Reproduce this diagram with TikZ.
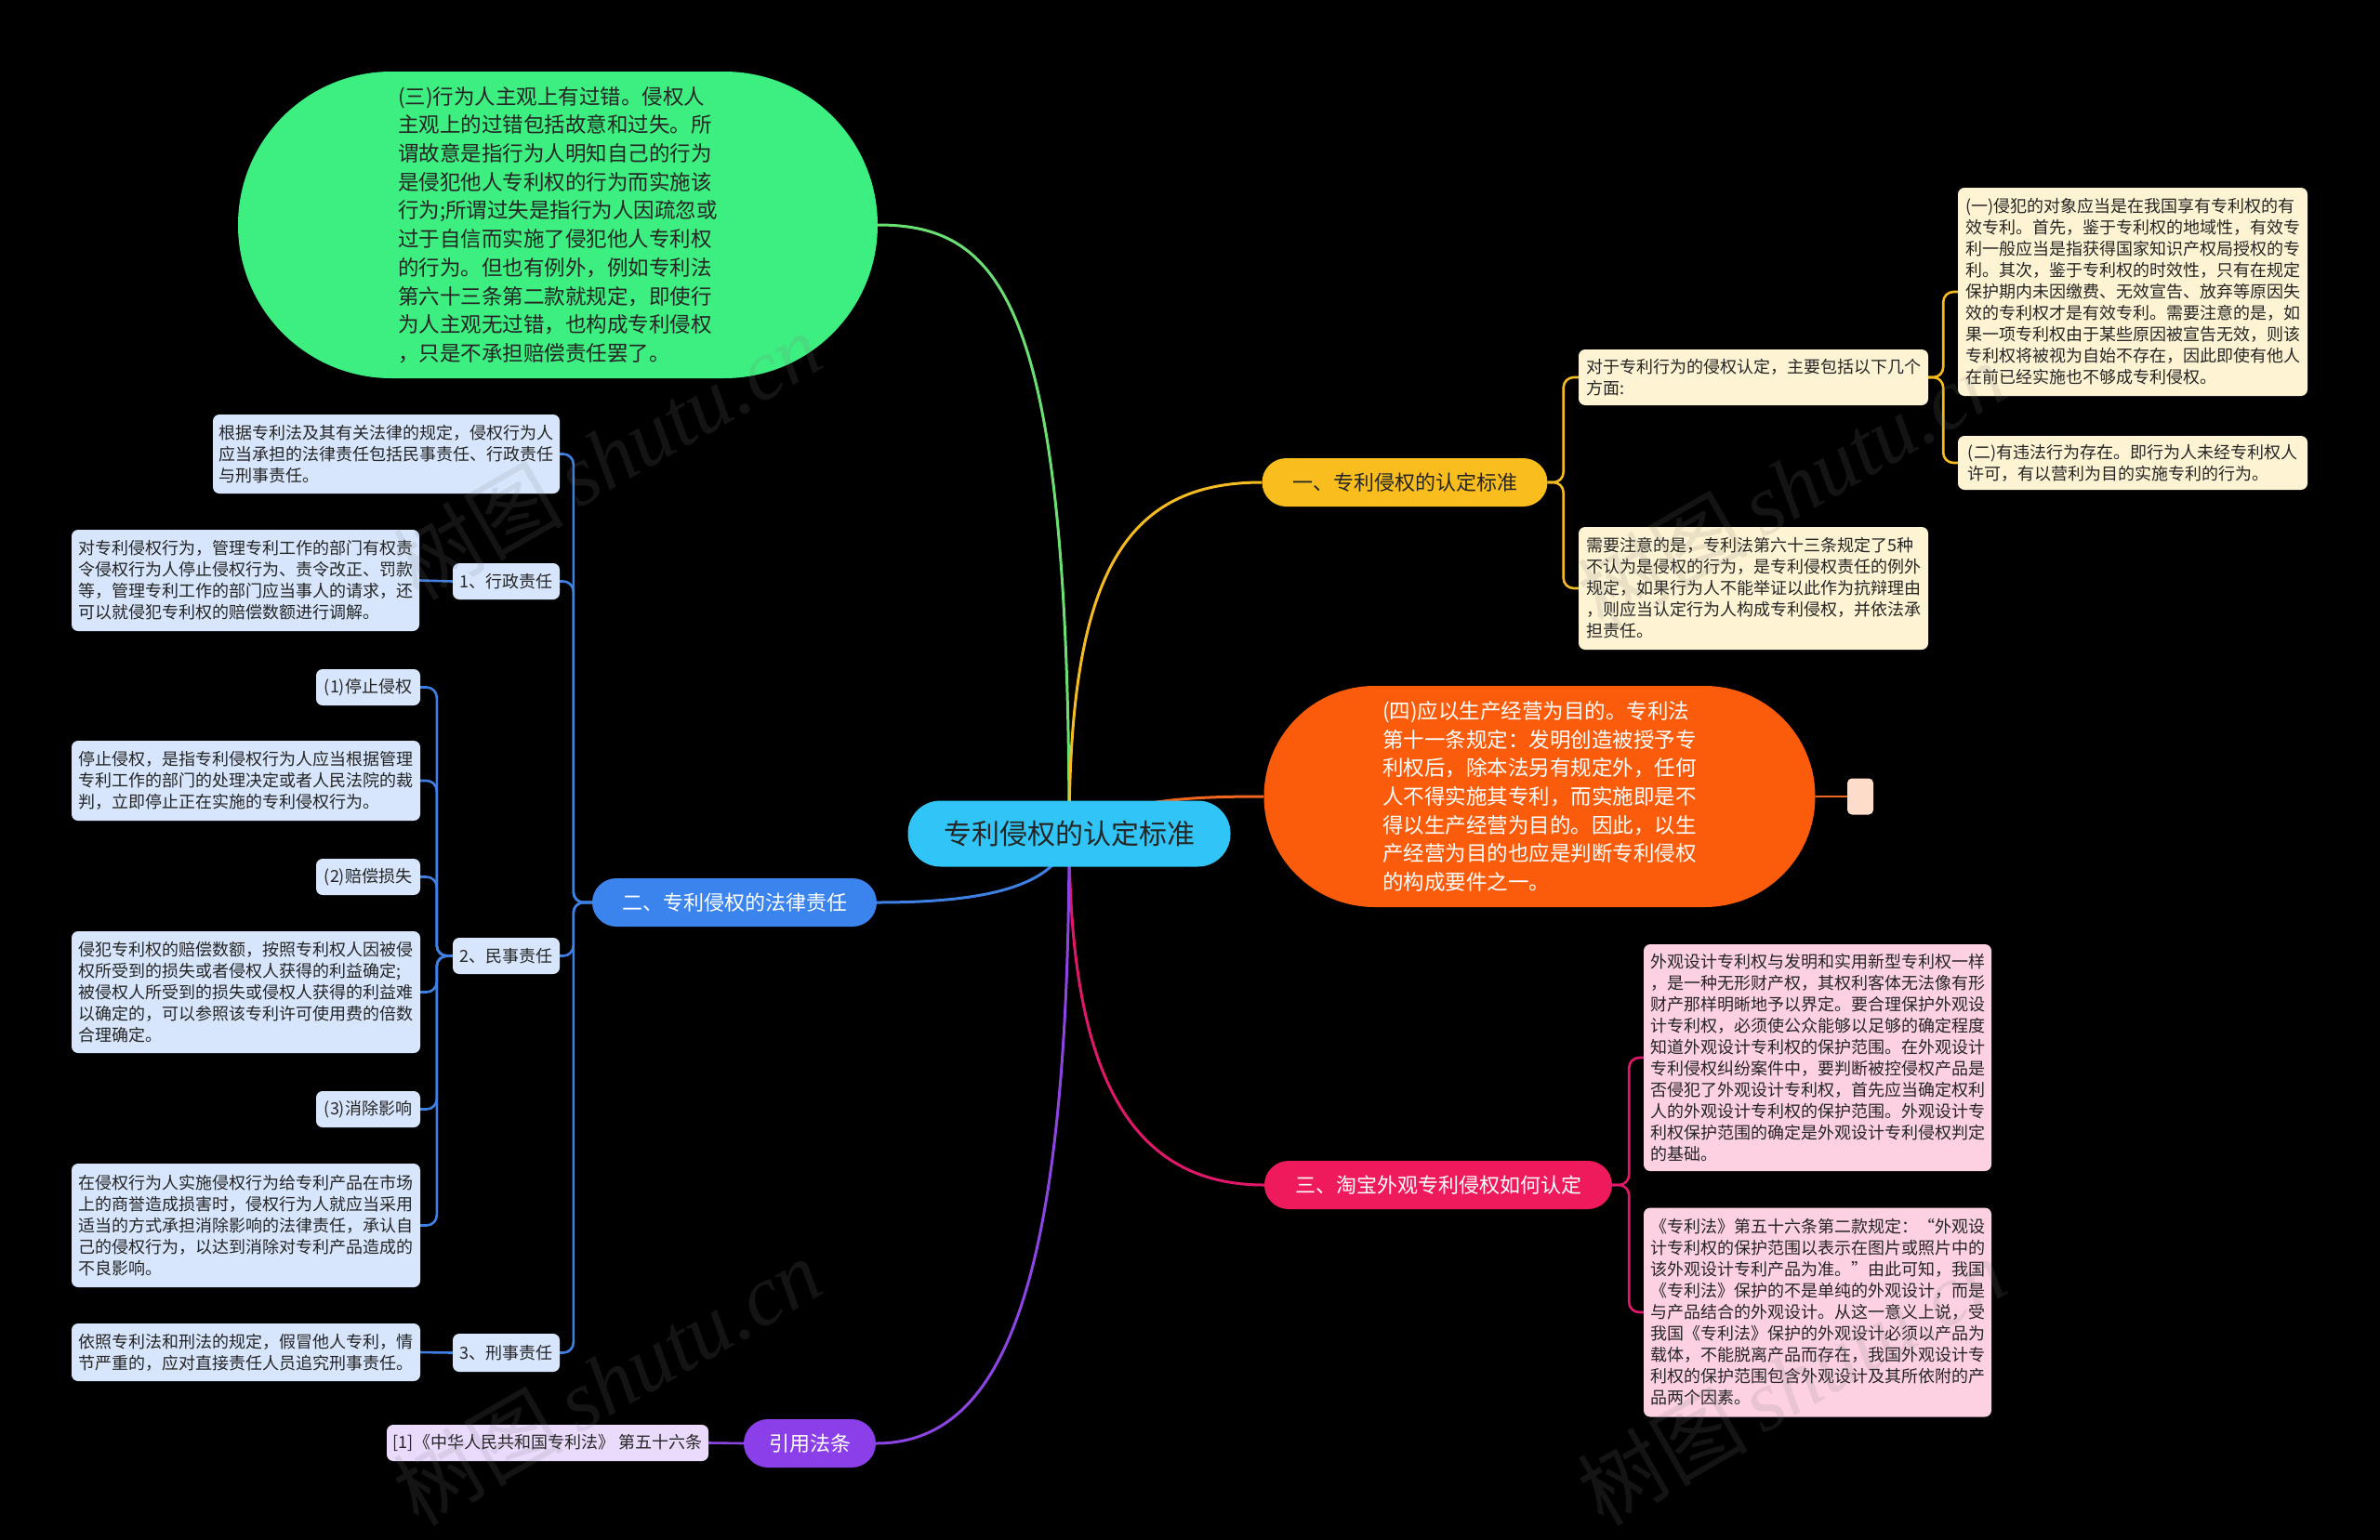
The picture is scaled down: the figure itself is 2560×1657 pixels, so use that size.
\documentclass[tikz,border=0pt]{standalone}
\usepackage{fontspec}
\setmainfont{Noto Sans CJK SC}
\newfontfamily\wmfont{Liberation Serif}
\newfontfamily\wmcjk{Noto Sans CJK SC}
\pgfdeclarelayer{bg}
\pgfdeclarelayer{lines}
\pgfsetlayers{bg,lines,main}
\definecolor{rootc}{HTML}{30C5F6}
\definecolor{yelc}{HTML}{F9BE1D}
\definecolor{yell}{HTML}{F5BB22}
\definecolor{ycream}{HTML}{FEF3D3}
\definecolor{bluec}{HTML}{3B84EE}
\definecolor{bluel}{HTML}{3F80E4}
\definecolor{bbox}{HTML}{D7E6FC}
\definecolor{greenc}{HTML}{3DEE80}
\definecolor{greenl}{HTML}{6ADF72}
\definecolor{orangec}{HTML}{FA5C0B}
\definecolor{orangel}{HTML}{EE6620}
\definecolor{peach}{HTML}{FDDCCA}
\definecolor{pinkc}{HTML}{EE1A5C}
\definecolor{pinkl}{HTML}{E0186A}
\definecolor{pbox}{HTML}{FDD0E2}
\definecolor{purc}{HTML}{8B3FE8}
\definecolor{purl}{HTML}{8C44E2}
\definecolor{lav}{HTML}{EADBFD}
\definecolor{darkt}{HTML}{252525}
\begin{document}
\begin{tikzpicture}[x=1pt,y=-1pt,
  box/.style={rectangle, rounded corners=7pt, inner sep=0pt, align=left, font=\fontsize{18}{23}\selectfont},
  ybox/.style={box, fill=ycream, text=darkt},
  bbx/.style={box, fill=bbox, text=darkt},
  pbx/.style={box, fill=pbox, text=darkt},
  lbx/.style={box, fill=lav, text=darkt},
  branch/.style={rectangle, rounded corners=26pt, inner sep=0pt, minimum height=52pt, font=\fontsize{22}{26}\selectfont},
  big/.style={rectangle, inner sep=0pt, align=left, font=\fontsize{22.5}{30.7}\selectfont},
  mainline/.style={line width=3pt},
  brk/.style={line width=2.6pt, rounded corners=11pt},
  wm/.style={rotate=30, text=gray, opacity=0.16, font=\fontsize{92}{92}\selectfont}
]
\begin{pgfonlayer}{bg}
\useasboundingbox (0,0) rectangle (2560,1657);
\fill[black] (0,0) rectangle (2560,1657);
\end{pgfonlayer}

% ---------- nodes ----------
\node[rectangle, rounded corners=35pt, fill=rootc, text=darkt, minimum width=347pt, minimum height=71pt, inner sep=0pt, font=\fontsize{30}{34}\selectfont] (root) at (1150,897) {专利侵权的认定标准};

\node[branch, fill=yelc, text=darkt, minimum width=307pt] (br1) at (1511,519) {一、专利侵权的认定标准};
\node[branch, fill=bluec, text=white, minimum width=306pt] (br2) at (790,971) {二、专利侵权的法律责任};
\node[branch, fill=pinkc, text=white, minimum width=374pt] (br3) at (1547,1275) {三、淘宝外观专利侵权如何认定};
\node[branch, fill=purc, text=white, minimum width=142pt] (br5) at (871,1553) {引用法条};

\node[big, fill=greenc, text=darkt, rounded corners=165pt, minimum width=688pt, minimum height=330pt] (green) at (600,242) {(三)行为人主观上有过错。侵权人\\主观上的过错包括故意和过失。所\\谓故意是指行为人明知自己的行为\\是侵犯他人专利权的行为而实施该\\行为;所谓过失是指行为人因疏忽或\\过于自信而实施了侵犯他人专利权\\的行为。但也有例外，例如专利法\\第六十三条第二款就规定，即使行\\为人主观无过错，也构成专利侵权\\，只是不承担赔偿责任罢了。};

\node[big, fill=orangec, text=white, rounded corners=119pt, minimum width=593pt, minimum height=238pt] (orange) at (1656,857) {(四)应以生产经营为目的。专利法\\第十一条规定：发明创造被授予专\\利权后，除本法另有规定外，任何\\人不得实施其专利，而实施即是不\\得以生产经营为目的。因此，以生\\产经营为目的也应是判断专利侵权\\的构成要件之一。};
\node[rectangle, rounded corners=5pt, fill=peach, minimum width=28pt, minimum height=39pt, inner sep=0pt] (tail) at (2001,857) {};

% yellow side
\node[ybox, minimum width=376pt, minimum height=60pt] (yA) at (1886,406) {对于专利行为的侵权认定，主要包括以下几个\\方面:};
\node[ybox, minimum width=376pt, minimum height=132pt] (yB) at (1886,633) {需要注意的是，专利法第六十三条规定了5种\\不认为是侵权的行为，是专利侵权责任的例外\\规定，如果行为人不能举证以此作为抗辩理由\\，则应当认定行为人构成专利侵权，并依法承\\担责任。};
\node[ybox, minimum width=376pt, minimum height=224pt] (y1) at (2294,314) {(一)侵犯的对象应当是在我国享有专利权的有\\效专利。首先，鉴于专利权的地域性，有效专\\利一般应当是指获得国家知识产权局授权的专\\利。其次，鉴于专利权的时效性，只有在规定\\保护期内未因缴费、无效宣告、放弃等原因失\\效的专利权才是有效专利。需要注意的是，如\\果一项专利权由于某些原因被宣告无效，则该\\专利权将被视为自始不存在，因此即使有他人\\在前已经实施也不够成专利侵权。};
\node[ybox, minimum width=376pt, minimum height=58pt] (y2) at (2294,498) {(二)有违法行为存在。即行为人未经专利权人\\许可，有以营利为目的实施专利的行为。};

% pink side
\node[pbx, minimum width=374pt, minimum height=244pt] (p1) at (1955,1138) {外观设计专利权与发明和实用新型专利权一样\\，是一种无形财产权，其权利客体无法像有形\\财产那样明晰地予以界定。要合理保护外观设\\计专利权，必须使公众能够以足够的确定程度\\知道外观设计专利权的保护范围。在外观设计\\专利侵权纠纷案件中，要判断被控侵权产品是\\否侵犯了外观设计专利权，首先应当确定权利\\人的外观设计专利权的保护范围。外观设计专\\利权保护范围的确定是外观设计专利侵权判定\\的基础。};
\node[pbx, minimum width=374pt, minimum height=225pt] (p2) at (1955,1412) {《专利法》第五十六条第二款规定：“外观设\\计专利权的保护范围以表示在图片或照片中的\\该外观设计专利产品为准。”由此可知，我国\\《专利法》保护的不是单纯的外观设计，而是\\与产品结合的外观设计。从这一意义上说，受\\我国《专利法》保护的外观设计必须以产品为\\载体，不能脱离产品而存在，我国外观设计专\\利权的保护范围包含外观设计及其所依附的产\\品两个因素。};

% blue side
\node[bbx, minimum width=373pt, minimum height=85pt] (L0) at (415.5,488.5) {根据专利法及其有关法律的规定，侵权行为人\\应当承担的法律责任包括民事责任、行政责任\\与刑事责任。};
\node[bbx, minimum width=115pt, minimum height=39pt] (a1) at (544.5,625.5) {1、行政责任};
\node[bbx, minimum width=115pt, minimum height=39pt] (a2) at (544.5,1028.5) {2、民事责任};
\node[bbx, minimum width=115pt, minimum height=41pt] (a3) at (544.5,1455.5) {3、刑事责任};
\node[bbx, minimum width=374pt, minimum height=109pt] (b1) at (264,624.5) {对专利侵权行为，管理专利工作的部门有权责\\令侵权行为人停止侵权行为、责令改正、罚款\\等，管理专利工作的部门应当事人的请求，还\\可以就侵犯专利权的赔偿数额进行调解。};
\node[bbx, minimum width=112pt, minimum height=39pt] (c1) at (396,739.5) {(1)停止侵权};
\node[bbx, minimum width=375pt, minimum height=86pt] (c2) at (264.5,840) {停止侵权，是指专利侵权行为人应当根据管理\\专利工作的部门的处理决定或者人民法院的裁\\判，立即停止正在实施的专利侵权行为。};
\node[bbx, minimum width=112pt, minimum height=39pt] (c3) at (396,943.5) {(2)赔偿损失};
\node[bbx, minimum width=375pt, minimum height=131pt] (c4) at (264.5,1067.5) {侵犯专利权的赔偿数额，按照专利权人因被侵\\权所受到的损失或者侵权人获得的利益确定;\\被侵权人所受到的损失或侵权人获得的利益难\\以确定的，可以参照该专利许可使用费的倍数\\合理确定。};
\node[bbx, minimum width=112pt, minimum height=39pt] (c5) at (396,1193.5) {(3)消除影响};
\node[bbx, minimum width=375pt, minimum height=133pt] (c6) at (264.5,1318.5) {在侵权行为人实施侵权行为给专利产品在市场\\上的商誉造成损害时，侵权行为人就应当采用\\适当的方式承担消除影响的法律责任，承认自\\己的侵权行为，以达到消除对专利产品造成的\\不良影响。};
\node[bbx, minimum width=375pt, minimum height=62pt] (d1) at (264.5,1455) {依照专利法和刑法的规定，假冒他人专利，情\\节严重的，应对直接责任人员追究刑事责任。};

% purple
\node[lbx, minimum width=346pt, minimum height=39pt] (e1) at (589,1552.5) {[1]《中华人民共和国专利法》 第五十六条};

% ---------- connectors (on the layer below the nodes) ----------
\begin{pgfonlayer}{lines}
\draw[mainline, greenl] (root.center) .. controls (1150,327) and (1078,242) .. (green.east);
\draw[mainline, yell] (root.center) .. controls (1150,620) and (1208,519) .. (br1.west);
\draw[mainline, orangel] (root.center) .. controls (1200,860) and (1280,857) .. (orange.west);
\draw[mainline, bluel] (root.center) .. controls (1140,960) and (1040,971) .. (br2.east);
\draw[mainline, pinkl] (root.center) .. controls (1150,1143) and (1208,1275) .. (br3.west);
\draw[mainline, purl] (root.center) .. controls (1150,1388) and (1078,1553) .. (br5.east);

\draw[line width=2.6pt, orangel] (orange.east) -- (tail.west);

\draw[brk, yell] (br1.east) -- ++(17,0) |- (yA.west);
\draw[brk, yell] (br1.east) -- ++(17,0) |- (yB.west);
\draw[brk, yell] (yA.east) -- ++(16,0) |- (y1.west);
\draw[brk, yell] (yA.east) -- ++(16,0) |- (y2.west);

\draw[brk, pinkl] (br3.east) -- ++(18,0) |- (p1.west);
\draw[brk, pinkl] (br3.east) -- ++(18,0) |- (p2.west);

\foreach \t in {L0,a1,a2,a3}{
  \draw[brk, bluel] (br2.west) -- ++(-20,0) |- (\t.east);
}
\draw[line width=2.6pt, bluel] (a1.west) -- (b1.east);
\foreach \t in {c1,c2,c3,c4,c5,c6}{
  \draw[brk, bluel] (a2.west) -- ++(-17,0) |- (\t.east);
}
\draw[line width=2.6pt, bluel] (a3.west) -- (d1.east);

\draw[line width=2.6pt, purl] (br5.west) -- (e1.east);
\end{pgfonlayer}

% ---------- watermarks ----------
\node[wm] (wm1) at (653,490) {\wmcjk 树图\,\wmfont\itshape shutu.cn};
\node[wm] (wm2) at (1927,522) {\wmcjk 树图\,\wmfont\itshape shutu.cn};
\node[wm] (wm3) at (653,1486) {\wmcjk 树图\,\wmfont\itshape shutu.cn};
\node[wm] (wm4) at (1927,1486) {\wmcjk 树图\,\wmfont\itshape shutu.cn};
\end{tikzpicture}
\end{document}
